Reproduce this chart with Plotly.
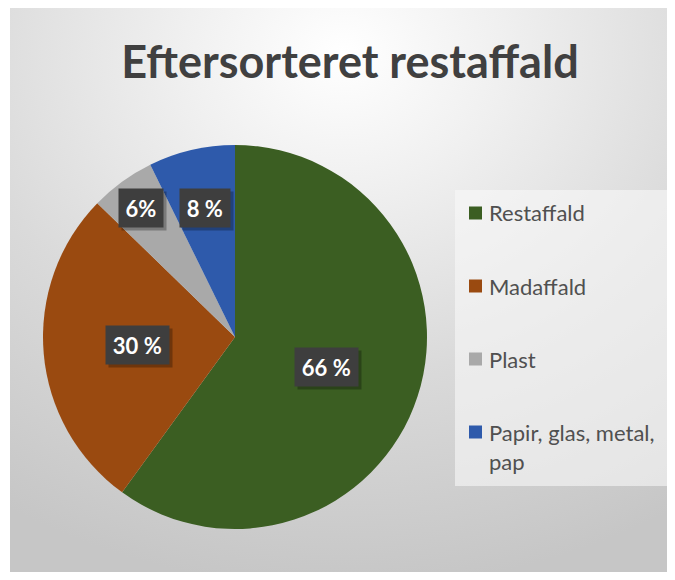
import math
import base64
import plotly.graph_objects as go

# ---- data ----
categories = ["Restaffald", "Madaffald", "Plast", "Papir, glas, metal, pap"]
legend_labels = ["Restaffald", "Madaffald", "Plast", "Papir, glas, metal,<br>pap"]
values = [66, 30, 6, 8]
value_labels = ["66 %", "30 %", "6%", "8 %"]
colors = ["#3b5e22", "#9a4a10", "#a9a9a9", "#2e5aab"]
title_text = "Eftersorteret restaffald"

# ---- layout geometry (screen pixels; page body has an 8px margin) ----
OX, OY = 8, 8
W, H = 667, 564
cx, cy, R = 235, 337, 192
label_frac = [0.50, 0.51, 0.83, 0.69]

def px_to_paper(x, y):
    return (x - OX) / W, 1 - (y - OY) / H

# background gradient (SVG data URI)
BGX, BGY = 10, 8
bw, bh = W - (BGX - OX), H - (BGY - OY)
svg = f'''<svg xmlns="http://www.w3.org/2000/svg" width="{bw}" height="{bh}" preserveAspectRatio="none">
<defs><radialGradient id="g" cx="0.5" cy="0.08" r="0.95">
<stop offset="0" stop-color="#ffffff"/>
<stop offset="0.25" stop-color="#f0f0f0"/>
<stop offset="0.6" stop-color="#dadada"/>
<stop offset="1" stop-color="#c6c6c6"/>
</radialGradient></defs>
<rect x="0" y="0" width="{bw}" height="{bh}" fill="url(#g)"/>
</svg>'''
bg_uri = "data:image/svg+xml;base64," + base64.b64encode(svg.encode()).decode()

x0, y1 = px_to_paper(cx - R, cy - R)
x1, y0 = px_to_paper(cx + R, cy + R)

fig = go.Figure(go.Pie(
    labels=categories,
    values=values,
    sort=False,
    direction="clockwise",
    rotation=0,
    marker=dict(colors=colors, line=dict(width=0)),
    textinfo="none",
    hoverinfo="label+value",
    showlegend=False,
    domain=dict(x=[x0, x1], y=[y0, y1]),
))

annotations = []
shapes = []

# approximate text width of the bold 22px label font
char_w = {"%": 17.2, " ": 5.7}
def label_width(t):
    return sum(char_w.get(c, 12.8) for c in t)

# data labels (positions derived from slice angles)
total = sum(values)
cum = 0
for v, txt, f in zip(values, value_labels, label_frac):
    mid = (cum + v / 2) / total * 2 * math.pi
    cum += v
    lx = cx + f * R * math.sin(mid)
    ly = cy - f * R * math.cos(mid)
    px, py = px_to_paper(lx, ly)
    bw_txt = label_width(txt) + 2
    # shadow
    annotations.append(dict(
        x=px, y=py, xref="paper", yref="paper", text=" ", showarrow=False,
        xanchor="center", yanchor="middle",
        width=bw_txt, height=26,
        font=dict(family="Lato", size=22, color="rgba(0,0,0,0)"),
        bgcolor="rgba(0,0,0,0.28)", borderpad=6, xshift=3, yshift=-3,
    ))
    annotations.append(dict(
        x=px, y=py, xref="paper", yref="paper", text=txt, showarrow=False,
        xanchor="center", yanchor="middle",
        width=bw_txt, height=26,
        font=dict(family="Lato", size=22, color="#ffffff", weight="bold"),
        bgcolor="#3e3e3e", borderpad=6,
    ))

# legend box
lb = (455, 190, 675, 486)
lx0, ly1 = px_to_paper(lb[0], lb[1])
lx1, ly0 = px_to_paper(lb[2], lb[3])
shapes.append(dict(type="rect", xref="paper", yref="paper", x0=lx0, x1=lx1, y0=ly0, y1=ly1,
                   fillcolor="rgba(248,248,248,0.6)", line=dict(width=0), layer="below"))

# legend entries
item_y0, item_gap = 213, 73
for i, (lab, col) in enumerate(zip(legend_labels, colors)):
    yy = item_y0 + i * item_gap
    sx0, sy1 = px_to_paper(469, yy - 6.5)
    sx1, sy0 = px_to_paper(482, yy + 6.5)
    shapes.append(dict(type="rect", xref="paper", yref="paper", x0=sx0, x1=sx1, y0=sy0, y1=sy1,
                       fillcolor=col, line=dict(width=0)))
    multi = "<br>" in lab
    tx, ty = px_to_paper(487, yy)
    annotations.append(dict(
        x=tx, y=ty, xref="paper", yref="paper", text=lab, showarrow=False,
        xanchor="left", yanchor="top" if multi else "middle",
        yshift=15 if multi else 0,
        align="left",
        font=dict(family="Lato", size=22, color="#505050"),
    ))

tx, ty = px_to_paper(350, 62)
fig.update_layout(
    width=W, height=H,
    margin=dict(l=0, r=0, t=0, b=0),
    paper_bgcolor="#ffffff",
    plot_bgcolor="rgba(0,0,0,0)",
    title=dict(text=title_text, x=tx, y=ty, xref="paper", yref="paper",
               xanchor="center", yanchor="middle",
               font=dict(family="Lato", size=45, color="#404040", weight="bold")),
    images=[dict(source=bg_uri, xref="paper", yref="paper",
                 x=(BGX - OX) / W, y=1 - (BGY - OY) / H, sizex=bw / W, sizey=bh / H,
                 xanchor="left", yanchor="top", sizing="stretch", layer="below")],
    shapes=shapes,
    annotations=annotations,
)

fig.write_html("out.html")
